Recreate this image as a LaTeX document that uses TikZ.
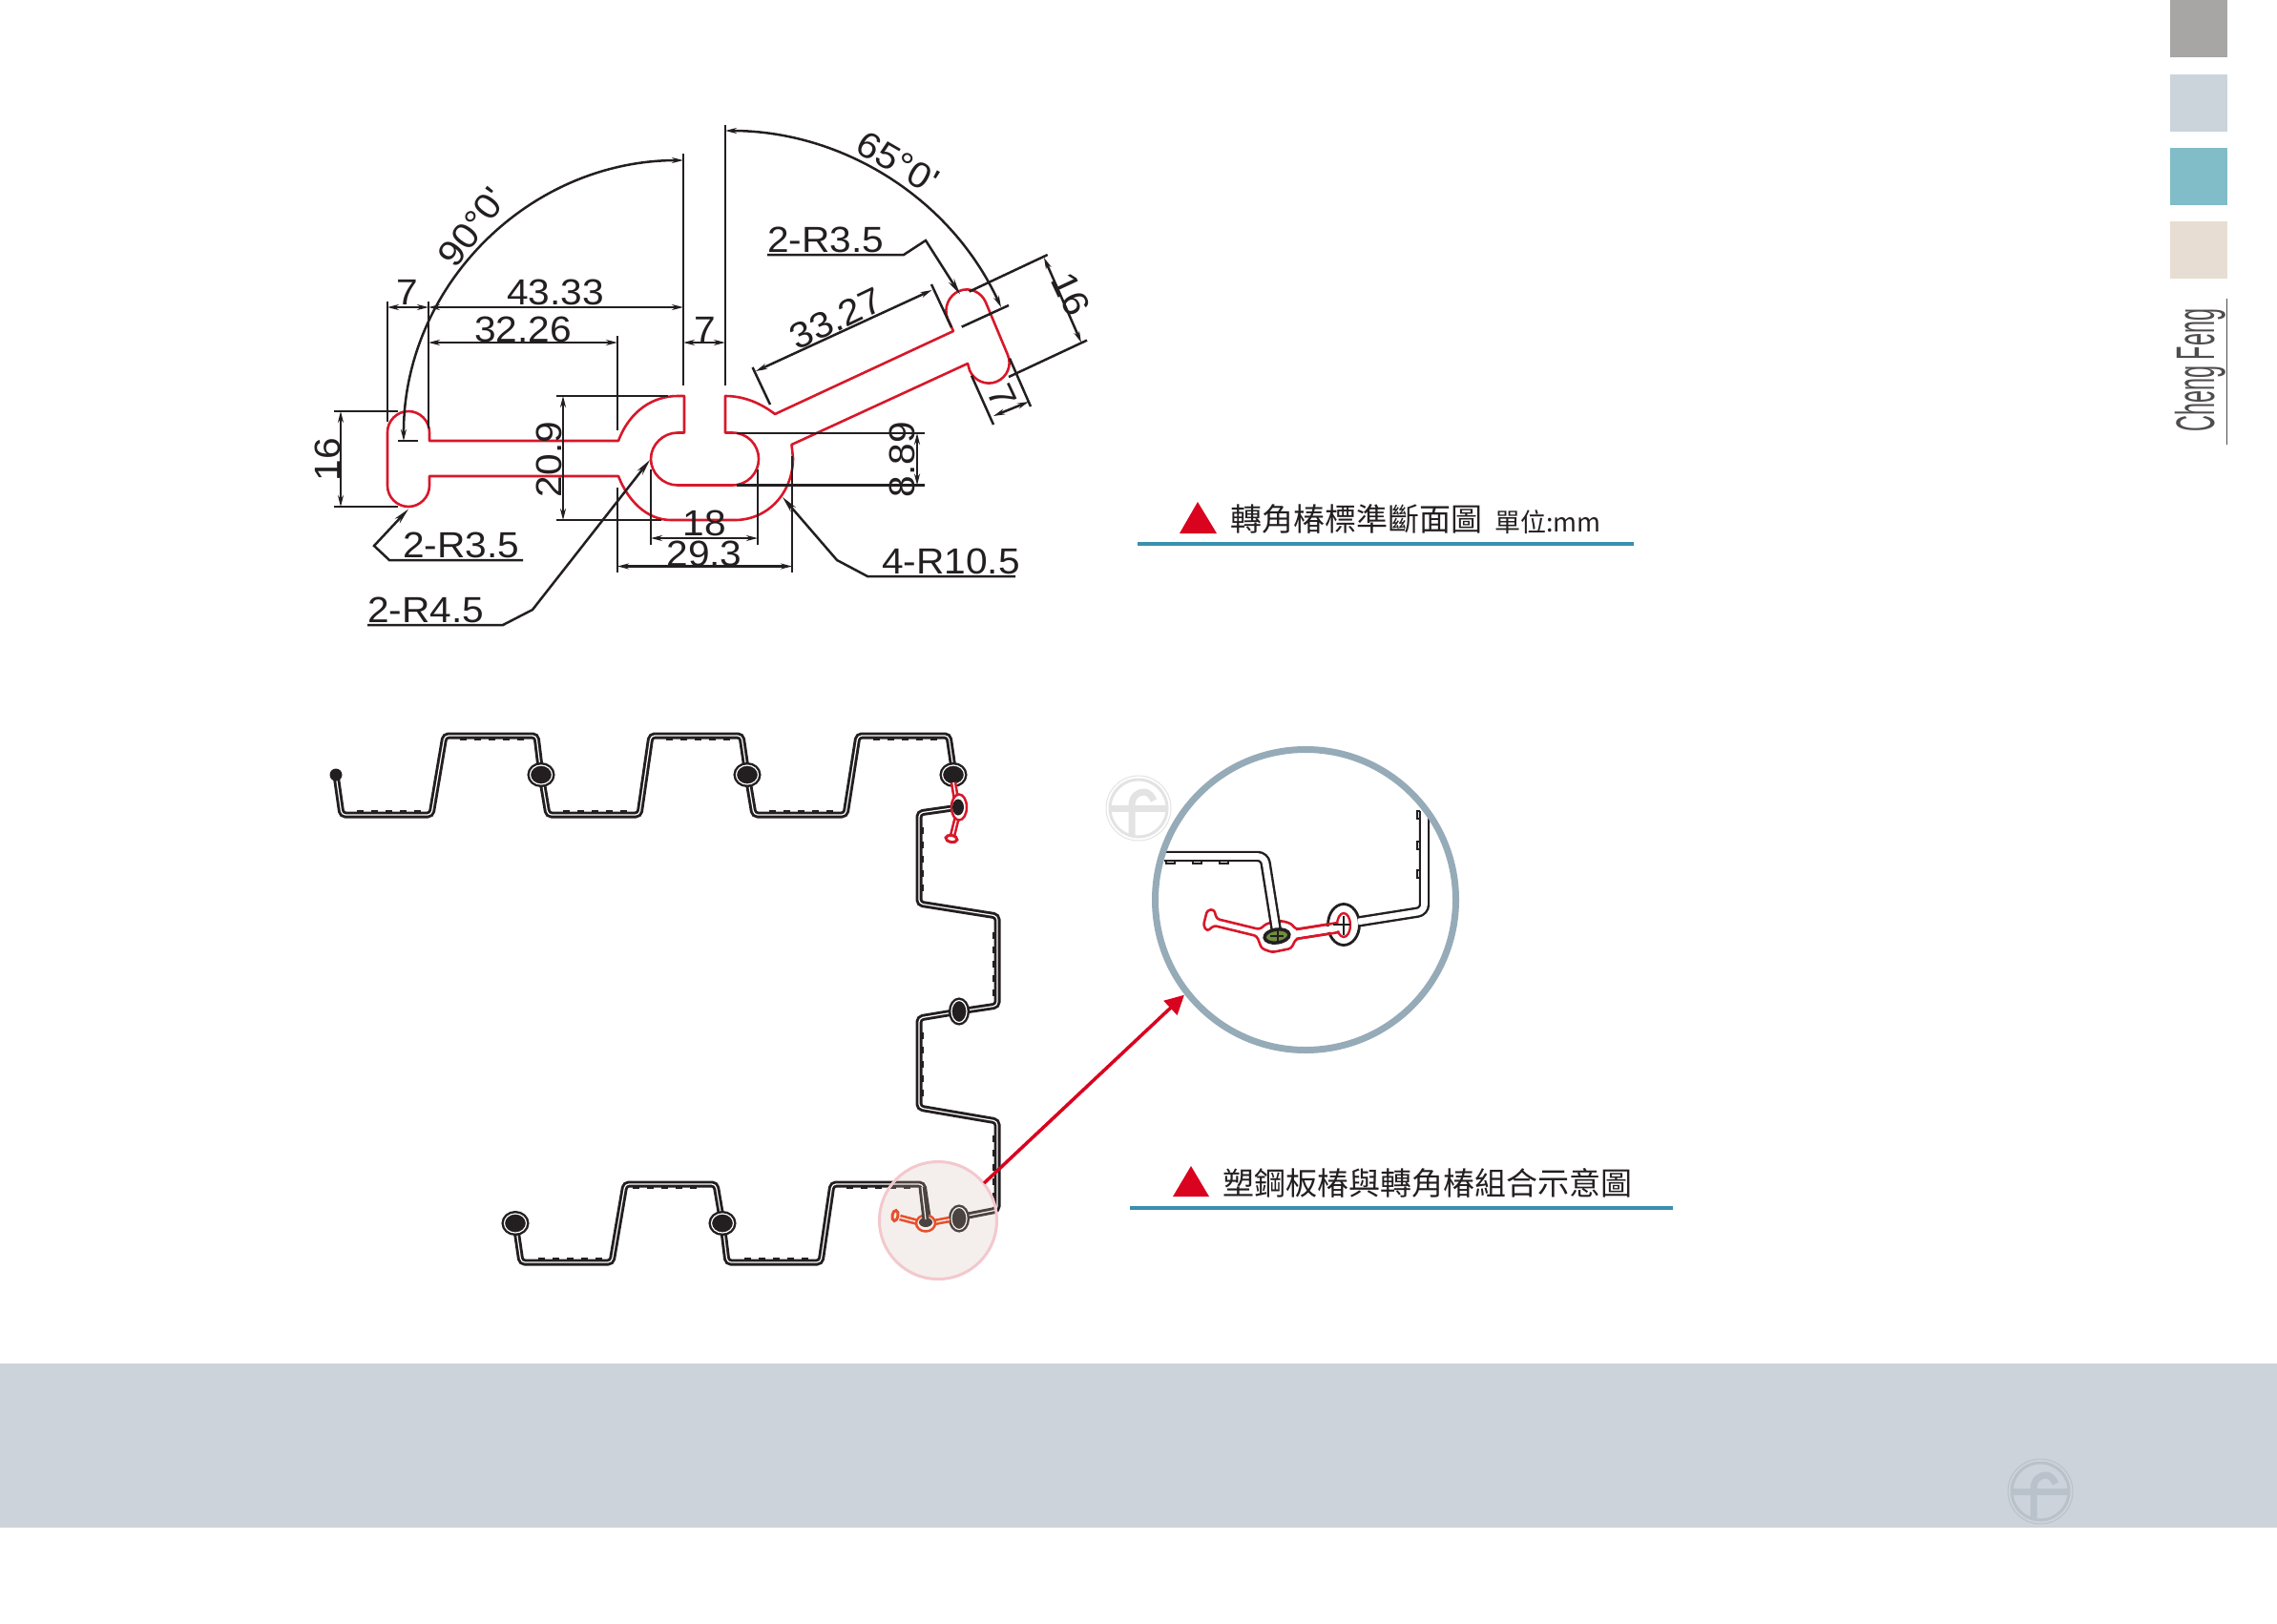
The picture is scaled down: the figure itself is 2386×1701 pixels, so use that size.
\documentclass[tikz,border=0pt]{standalone}
\usepackage{fontspec}
\usetikzlibrary{arrows.meta,shapes.geometric}
\newfontfamily\cadfont[FakeStretch=1.07]{Liberation Sans}
\newfontfamily\brandfont[FakeStretch=0.41]{Liberation Sans}
\newfontfamily\cjkfont{Noto Sans CJK TC}
\definecolor{ink}{HTML}{231F20}
\definecolor{profilered}{HTML}{D7182A}
\definecolor{arrowred}{HTML}{D9021F}
\definecolor{capline}{HTML}{3A8FAE}
\definecolor{bandgrey}{HTML}{CCD3DB}
\definecolor{swatchA}{HTML}{A8A5A5}
\definecolor{swatchB}{HTML}{CBD4DB}
\definecolor{swatchC}{HTML}{80BDC8}
\definecolor{swatchD}{HTML}{E8DDD2}
\definecolor{logodark}{HTML}{B9C2CA}
\definecolor{logopale}{HTML}{E3E3E3}
\definecolor{orangered}{HTML}{EF3006}
\definecolor{spotfill}{RGB}{209,187,174}
\definecolor{spotedge}{HTML}{F3C8CD}
\definecolor{coregreen}{HTML}{6F8F3F}
\definecolor{ringblue}{HTML}{96ABB8}
\tikzset{
dim/.style={draw=ink, line width=2.5pt, {Stealth[length=12pt,width=6pt]}-{Stealth[length=12pt,width=6pt]}},
leader/.style={draw=ink, line width=2.5pt, -{Stealth[length=17pt,width=7pt]}},
ext/.style={draw=ink, line width=2.5pt},
profile/.style={draw=profilered, line width=2.6pt, line join=round},
dimtext/.style={text=ink, inner sep=0pt, font=\cadfont\fontsize{38}{38}\selectfont},
pile/.style={draw=ink, line width=2.9pt, double=white, double distance=1.2pt, rounded corners=4pt},
teeth/.style={draw=ink, line width=2.5pt, dash pattern=on 7pt off 8pt},
redpile/.style={line width=2.6pt, double=white, double distance=1.4pt},
joint/.style={ellipse, draw=ink, fill=ink, line width=2.4pt, double=white, double distance=1.2pt, inner sep=0pt, outer sep=0pt, minimum width=#1},
roundjoint/.style={joint=23pt, minimum height=20pt},
walljoint/.style={joint=16pt, minimum height=23pt},
detailpile/.style={draw=ink, line width=2.4pt, double=white, double distance=6.6pt, rounded corners=7pt},
capmark/.style={fill=arrowred, draw=none},
capbar/.style={draw=capline, line width=4pt},
captext/.style={text=ink, inner sep=0pt, anchor=west, font=\cjkfont\fontsize{33}{33}\selectfont}
}
\newcommand{\logomark}[3]{
\begin{scope}[shift={(#1,#2)}]
	\draw[#3, line width=1pt] (0,0) circle (34);
	\draw[#3, line width=3pt] (0,0) circle (30);
	\draw[#3, line width=7pt] (-30,0) -- (30,0);
	\draw[#3, line width=7pt] (-7,29) -- (-7,-3) .. controls (-7,-13) and (0,-17) .. (6,-17) .. controls (10,-17) and (14,-13) .. (16,-8);
\end{scope}
}
\begin{document}
\begin{tikzpicture}[x=1pt,y=-1pt]
	\useasboundingbox (0,0) rectangle (2386,1701);
	% page furniture
	\fill[bandgrey] (0,1429) rectangle (2386,1601);
	\fill[swatchA] (2274,0) rectangle (2334,60);
	\fill[swatchB] (2274,78) rectangle (2334,138);
	\fill[swatchC] (2274,155) rectangle (2334,215);
	\fill[swatchD] (2274,232) rectangle (2334,292);
	\node[rotate=90, inner sep=0pt, anchor=base, text=ink!80, font=\brandfont\fontsize{57}{57}\selectfont] (brand) at (2320,388) {Cheng Feng};
	\draw[ink!80, line width=1pt] (2333,313) -- (2333,466);
	\logomark{2138}{1563}{logodark}
	\logomark{1193}{847}{logopale}

	% section profile
	\draw[profile] (450,462) -- (450,453) .. controls (450,441) and (440,431) .. (428,431) .. controls (416,431) and (406,441) .. (406,453) -- (406,509) .. controls (406,521) and (416,531) .. (428,531) .. controls (440,531) and (450,521) .. (450,509) -- (450,499) -- (648,499) .. controls (658,525) and (678,545) .. (703,545) -- (770,545) .. controls (805,545) and (831,516) .. (831,480) -- (829.5,466) -- (1014,381) -- (1016,388) .. controls (1020.6,399) and (1033.3,404.6) .. (1044.3,400) .. controls (1055.3,395.4) and (1060.6,383) .. (1056,372) -- (1033,317) .. controls (1028.4,306) and (1016,300.4) .. (1005,305) .. controls (994,309.6) and (988.4,323) .. (993,334) -- (999,347) -- (812,434) .. controls (798,423) and (780,415) .. (760,415) -- (760,453.5) -- (767.5,453.5) .. controls (783,453.5) and (795,466) .. (795,481) .. controls (795,496) and (783,508.5) .. (767.5,508.5) -- (710,508.5) .. controls (695,508.5) and (682,496) .. (682,481) .. controls (682,466) and (695,453.5) .. (710,453.5) -- (717,453.5) -- (717,415) -- (710,415) .. controls (685,415) and (660,430) .. (648,462) -- cycle;

	% extension lines
	\draw[ext] (406,316) -- (406,442);
	\draw[ext] (449,316) -- (449,449);
	\draw[ext] (716,161) -- (716,404);
	\draw[ext] (760,131) -- (760,404);
	\draw[ext] (647,352) -- (647,451);
	\draw[ext] (350,431) -- (417,431);
	\draw[ext] (350,531) -- (417,531);
	\draw[ext] (583,415) -- (700,415);
	\draw[ext] (583,545) -- (693,545);
	\draw[ext] (417,462) -- (438,462);
	\draw[ext] (772,454) -- (969,454);
	\draw[ext] (772,508.5) -- (969,508.5);
	\draw[ext] (682,492) -- (682,571);
	\draw[ext] (794,492) -- (794,571);
	\draw[ext] (647,511) -- (647,600);
	\draw[ext] (830,478) -- (830,600);
	\draw[ext] (788.6,385) -- (807,424);
	\draw[ext] (976,298) -- (997,343);
	\draw[ext] (1015.6,305.6) -- (1097.7,267);
	\draw[ext] (1057,395) -- (1139,356.6);
	\draw[ext] (1018,393.6) -- (1041,445);
	\draw[ext] (1058,375.6) -- (1080,426);
	\draw[ext] (1007.7,342.6) -- (1057,320);

	% dimensions
	\draw[dim] (406,322) -- (449,322);
	\draw[dim] (449,322) -- (716,322);
	\draw[dim] (449,359) -- (647,359);
	\draw[dim] (716,359) -- (760,359);
	\draw[dim] (357,431) -- (357,531);
	\draw[dim] (590,415) -- (590,545);
	\draw[dim] (961,454) -- (961,508.5);
	\draw[dim] (682,564) -- (794,564);
	\draw[dim] (647,593.5) -- (830,593.5);
	\draw[dim] (792,389) -- (976.5,304);
	\draw[dim] (1094,270) -- (1133,359);
	\draw[dim] (1041,436) -- (1078,421);
	\draw[dim] (716,168) .. controls (554,168) and (422,300) .. (423,462);
	\draw[dim] (760,137) .. controls (884.4,137) and (997,209) .. (1049,322);

	\node[dimtext] (lenA) at (582,306) {43.33};
	\node[dimtext] (lenB) at (548,345) {32.26};
	\node[dimtext] (lenC) at (427,306) {7};
	\node[dimtext] (lenD) at (739,345) {7};
	\node[dimtext, rotate=90] (lenE) at (343,481.5) {16};
	\node[dimtext, rotate=90] (lenF) at (575,481.5) {20.9};
	\node[dimtext, rotate=90] (lenG) at (945,481.5) {8.89};
	\node[dimtext] (lenH) at (738,548) {18};
	\node[dimtext] (lenI) at (738,580) {29.3};
	\node[dimtext, rotate=25.5] (lenJ) at (876,334) {33.27};
	\node[dimtext, rotate=-65] (lenK) at (1122,308) {16};
	\node[dimtext, rotate=-65] (lenL) at (1050,415) {7};
	\node[dimtext, rotate=53] (angA) at (495,238) {90°0'};
	\node[dimtext, rotate=-30] (angB) at (941,170) {65°0'};

	% leaders
	\draw[leader] (548,587) -- (408,587) -- (392,572) -- (428,533.5);
	\node[dimtext, anchor=base west] (radA) at (422,584) {2-R3.5};
	\draw[leader] (804,267) -- (947,267) -- (970,252) -- (1006,308.5);
	\node[dimtext, anchor=base west] (radB) at (804,264) {2-R3.5};
	\draw[leader] (385,655) -- (527,655) -- (558,639) -- (681,482);
	\node[dimtext, anchor=base west] (radC) at (385,652) {2-R4.5};
	\draw[leader] (1064,604) -- (909,604) -- (877,587) -- (820,521);
	\node[dimtext, anchor=base west] (radD) at (924,601) {4-R10.5};

	% captions
	\fill[capmark] (1236,559) -- (1255,526) -- (1275,559) -- cycle;
	\node[captext] (capA) at (1289,544) {轉角椿標準斷面圖};
	\node[captext, font=\cjkfont\fontsize{27}{27}\selectfont] (capAunit) at (1566,547) {單位:mm};
	\draw[capbar] (1192,570) -- (1712,570);
	\fill[capmark] (1229,1254) -- (1248,1222) -- (1267,1254) -- cycle;
	\node[captext] (capB) at (1281,1240) {塑鋼板椿與轉角椿組合示意圖};
	\draw[capbar] (1184,1266) -- (1753,1266);

	% sheet piles
	\draw[pile] (352,812) -- (358,854) -- (452,854) -- (466,771) -- (562,771) -- (567,812) -- (574,854) -- (670,854) -- (682,771) -- (777,771) -- (783,812) -- (790,854) -- (886,854) -- (899,771) -- (994,771) -- (1000,812);
	\draw[pile] (1005,846) -- (963,852) -- (963,947) -- (1045,960) -- (1045,1054) -- (1005,1060) -- (963,1067) -- (963,1161) -- (1045,1175) -- (1045,1268) -- (1004,1276);
	\draw[pile] (540,1282) -- (546,1323) -- (641,1323) -- (655,1241) -- (750,1241) -- (757,1282) -- (762,1323) -- (860,1323) -- (872,1241) -- (967,1241) -- (973,1282);
	\foreach \x in {374,590,806} \draw[teeth] (\x,850) -- ++(67,0);
	\foreach \x in {482,698,915} \draw[teeth] (\x,775) -- ++(67,0);
	\foreach \x in {564,780} \draw[teeth] (\x,1319) -- ++(67,0);
	\foreach \x in {663,887} \draw[teeth] (\x,1245) -- ++(67,0);
	\draw[teeth] (966.5,867) -- ++(0,67);
	\draw[teeth] (1041.5,977) -- ++(0,67);
	\draw[teeth] (966.5,1082) -- ++(0,67);
	\draw[teeth] (1041.5,1190) -- ++(0,67);
	\node[circle, fill=ink, inner sep=0pt, minimum size=13pt] (endA) at (352,812) {};
	\node[roundjoint] (jointA) at (567,812) {};
	\node[roundjoint] (jointB) at (783,812) {};
	\node[roundjoint] (jointC) at (999,812) {};
	\node[walljoint] (jointD) at (1005,1060) {};
	\node[walljoint] (jointE) at (1005,1277) {};
	\node[roundjoint] (jointF) at (757,1282) {};
	\node[roundjoint] (endB) at (540,1282) {};

	% corner pile, top
	\draw[draw=profilered, redpile] (999,820) -- (1002,838);
	\draw[draw=profilered, redpile] (1003,856) -- (998,876);
	\node[ellipse, draw=profilered, fill=white, line width=2.5pt, inner sep=0pt, minimum width=16pt, minimum height=27pt] (cornerA) at (1005,846) {};
	\node[ellipse, fill=ink, inner sep=0pt, minimum width=12pt, minimum height=17pt] (cornerAcore) at (1004,846) {};
	\node[ellipse, draw=profilered, fill=white, line width=3pt, inner sep=0pt, minimum width=12pt, minimum height=7pt, rotate=-10] (headA) at (997,879) {};

	% corner pile, bottom
	\draw[draw=orangered, redpile] (943,1276) -- (962,1281);
	\draw[draw=orangered, redpile] (979,1281) -- (995,1278);
	\node[ellipse, draw=orangered, fill=white, line width=2.5pt, inner sep=0pt, minimum width=20pt, minimum height=17pt] (cornerB) at (970,1282) {};
	\node[ellipse, fill=ink, inner sep=0pt, minimum width=14pt, minimum height=10pt] (cornerBcore) at (970,1281) {};
	\node[ellipse, draw=orangered, fill=white, line width=3pt, inner sep=0pt, minimum width=6pt, minimum height=11pt, rotate=-10] (headB) at (938,1274) {};
	\draw[draw=ink, line width=2.9pt, double=white, double distance=1.2pt] (966,1244) -- (970,1278);

	% marked spot
	\node[circle, fill=spotfill, fill opacity=0.23, inner sep=0pt, outer sep=0pt, minimum size=124pt] (spot) at (983,1279) {};
	\node[circle, draw=spotedge, line width=3pt, inner sep=0pt, outer sep=0pt, minimum size=123pt] (spotring) at (983,1279) {};

	% enlarged view
	\draw[profile, fill=white, rounded corners=3pt] (1275,963) -- (1320,974) -- (1327,968) -- (1343,965) -- (1353,968) -- (1358,974) -- (1402,967) -- (1403,977) -- (1358,984) -- (1353,994) -- (1333,998) -- (1322,994) -- (1317,981) -- (1272,970) -- (1265,976) -- (1261,970) -- (1265,954) -- (1272,953) -- cycle;
	\draw[detailpile] (1220,897.5) -- (1325,897.5) -- (1338,979);
	\foreach \x in {1222,1250,1278} \draw[ink, line width=2.2pt] (\x,902) -- ++(0,3) -- ++(9,0) -- ++(0,-3);
	\node[ellipse, draw=ink, fill=coregreen, line width=3.5pt, inner sep=0pt, minimum width=26pt, minimum height=14pt, rotate=8] (detailcore) at (1338,981) {};
	\draw[ink, line width=2pt] (1331,981) -- (1345,981);
	\draw[ink, line width=2pt] (1339,975) -- (1339,987);
	\node[ellipse, draw=ink, fill=white, line width=2.8pt, inner sep=0pt, minimum width=33pt, minimum height=43pt] (detailjoint) at (1408,969) {};
	\draw[detailpile] (1492.5,850) -- (1492.5,955) -- (1423,966);
	\foreach \y in {850,882,912} \draw[ink, line width=2.2pt] (1488,\y) -- ++(-3,0) -- ++(0,8) -- ++(3,0);
	\node[ellipse, draw=profilered, fill=white, line width=2.4pt, inner sep=0pt, minimum width=14pt, minimum height=25pt] (detailslot) at (1408,969.5) {};
	\draw[profilered, line width=2.6pt] (1358,974) -- (1402,967);
	\draw[profilered, line width=2.6pt] (1358,984) -- (1403,977);
	\draw[white, line width=6pt] (1362,978.5) -- (1404,972);
	\draw[ink, line width=2pt] (1397,969) -- (1415,969);
	\draw[ink, line width=2pt] (1408,960) -- (1408,980);
	\node[circle, draw=ringblue, line width=7pt, inner sep=0pt, outer sep=0pt, minimum size=315pt] (detail) at (1368,943) {};

	\draw[arrowred, line width=3.5pt, -{Triangle[length=20pt,width=20pt]}, shorten >=4pt] (spot.39) -- (detail.218.6);
\end{tikzpicture}
\end{document}
